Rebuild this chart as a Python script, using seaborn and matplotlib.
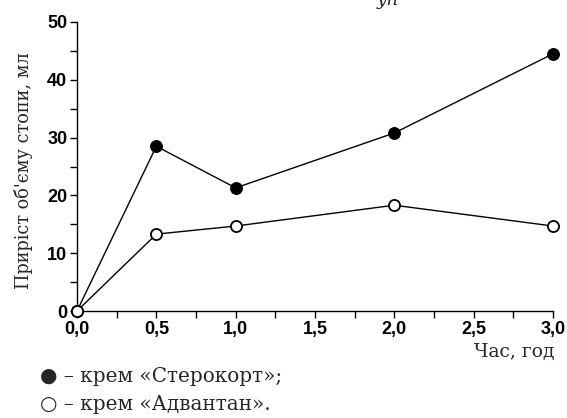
import matplotlib
matplotlib.use("Agg")
import matplotlib.pyplot as plt
import seaborn as sns
import pandas as pd
from matplotlib.ticker import MultipleLocator, FuncFormatter

hours = [0.0, 0.5, 1.0, 2.0, 3.0]
sterokort = [0.0, 28.5, 21.3, 30.8, 44.5]
advantan = [0.0, 13.3, 14.7, 18.3, 14.7]

series_names = ["Стерокорт", "Адвантан"]
y_label = "Приріст об'єму стопи, мл"
x_label = "Час, год"
legend_lines = ["● – крем «Стерокорт»;", "○ – крем «Адвантан»."]

df = pd.DataFrame({
    "hours": hours * 2,
    "value": sterokort + advantan,
    "cream": [series_names[0]] * len(hours) + [series_names[1]] * len(hours),
})

sns.set_style("ticks")
plt.rcParams["font.family"] = ["Liberation Sans", "DejaVu Sans"]

fig = plt.figure(figsize=(5.67, 4.18), dpi=100)
ax = fig.add_axes([77/567, 1 - 311/418, (553-77)/567, (311-22)/418])

sns.lineplot(data=df[df.cream == series_names[0]], x="hours", y="value", ax=ax,
             color="black", lw=1.0, marker="o", markersize=8.5,
             markerfacecolor="black", markeredgecolor="black", zorder=3, clip_on=False)
sns.lineplot(data=df[df.cream == series_names[1]], x="hours", y="value", ax=ax,
             color="black", lw=1.0, marker="o", markersize=8,
             markerfacecolor="white", markeredgecolor="black", markeredgewidth=1.3,
             zorder=4, clip_on=False)

ax.set_xlim(0, 3)
ax.set_ylim(0, 50)
ax.xaxis.set_major_locator(MultipleLocator(0.5))
ax.xaxis.set_minor_locator(MultipleLocator(0.25))
ax.yaxis.set_major_locator(MultipleLocator(10))
ax.yaxis.set_minor_locator(MultipleLocator(5))
ax.xaxis.set_major_formatter(FuncFormatter(lambda v, p: f"{v:.1f}".replace(".", ",")))
ax.yaxis.set_major_formatter(FuncFormatter(lambda v, p: f"{int(v)}"))
for s in ["top", "right"]:
    ax.spines[s].set_visible(False)
for s in ["left", "bottom"]:
    ax.spines[s].set_linewidth(1.0)
    ax.spines[s].set_color("black")
ax.tick_params(which="major", direction="out", length=5, width=1, colors="black",
               labelsize=13, pad=2)
ax.tick_params(which="minor", direction="out", length=5, width=1, colors="black")
for lbl in ax.get_xticklabels() + ax.get_yticklabels():
    lbl.set_fontweight("bold")
ax.set_xlabel("")
ax.set_ylabel("")
ax.get_legend() and ax.get_legend().remove()

serif = ["DejaVu Serif", "Liberation Serif"]
fig.text(24/567, 1 - 171/418, y_label, rotation=90, ha="center", va="center",
         fontsize=12.8, family=serif)
fig.text(554/567, 1 - 352/418, x_label, ha="right", va="center",
         fontsize=13.5, family=serif)
fig.text(40/567, 1 - 377/418, legend_lines[0], ha="left", va="center",
         fontsize=14.4, family=serif)
fig.text(40/567, 1 - 404/418, legend_lines[1], ha="left", va="center",
         fontsize=14.4, family=serif)
fig.text(388/567, 1.0, "уп", ha="center", va="center", fontsize=13, style="italic",
         family=serif)

fig.savefig("out.png", dpi=100)
